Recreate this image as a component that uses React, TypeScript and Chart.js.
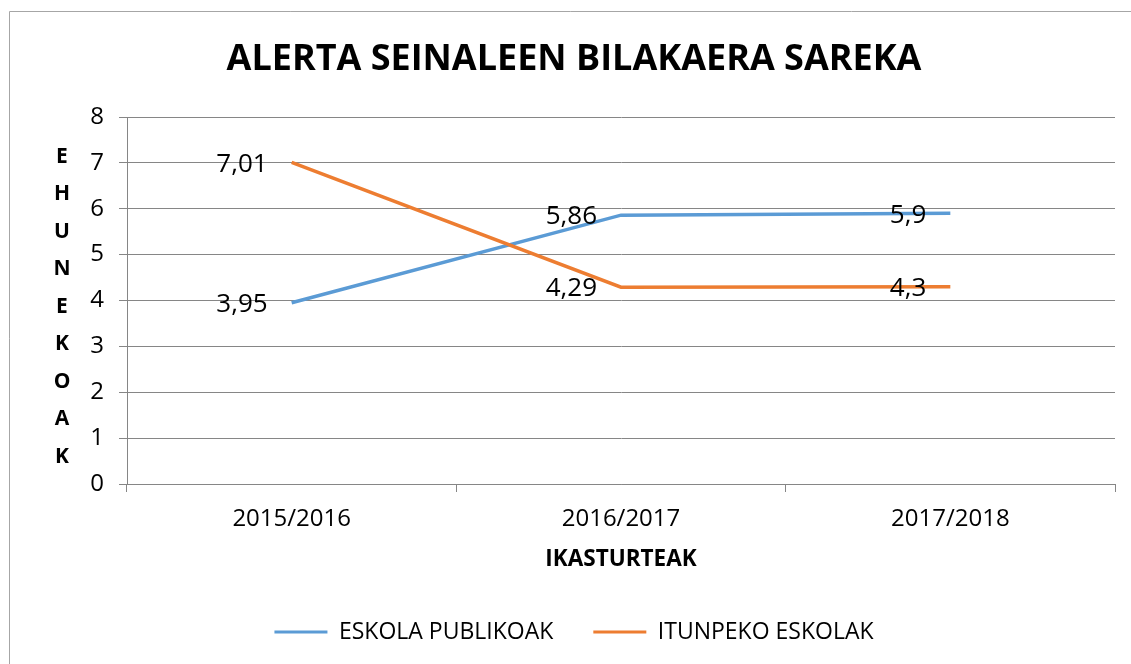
import React, { useEffect, useRef } from 'react';
import { Chart, registerables } from 'chart.js';

Chart.register(...registerables);

const categories = ['2015/2016', '2016/2017', '2017/2018'];
const publicSchools = [3.95, 5.86, 5.9];
const privateSchools = [7.01, 4.29, 4.3];
const seriesNames = ['ESKOLA PUBLIKOAK', 'ITUNPEKO ESKOLAK'];
const seriesColors = ['#5B9BD5', '#ED7D31'];
const yMin = 0;
const yMax = 8;
const yStep = 1;
const chartTitle = 'ALERTA SEINALEEN BILAKAERA SAREKA';
const xTitle = 'IKASTURTEAK';
const yTitle = 'EHUNEKOAK';

const FONT = "'Open Sans', sans-serif";
const GRID = '#868686';

const formatValue = (v: number) => String(v).replace('.', ',');

const framePlugin = {
  id: 'frame',
  beforeDraw(chart: any) {
    const ctx = chart.ctx;
    ctx.save();
    ctx.fillStyle = '#ffffff';
    ctx.fillRect(0, 0, chart.width, chart.height);
    ctx.strokeStyle = '#a6a6a6';
    ctx.lineWidth = 1;
    ctx.beginPath();
    ctx.moveTo(9.5, chart.height + 5);
    ctx.lineTo(9.5, 11.5);
    ctx.lineTo(chart.width + 5, 11.5);
    ctx.stroke();
    ctx.restore();
  },
};

const yTitlePlugin = {
  id: 'yTitleStacked',
  afterDraw(chart: any) {
    const ctx = chart.ctx;
    ctx.save();
    ctx.fillStyle = '#000';
    ctx.font = `bold 21px ${FONT}`;
    ctx.textAlign = 'center';
    ctx.textBaseline = 'alphabetic';
    const letters = yTitle.split('');
    letters.forEach((ch, i) => {
      ctx.fillText(ch, 62, 155 + i * 37.5 + 7.5);
    });
    ctx.restore();
  },
};

const dataLabelPlugin = {
  id: 'dataLabels',
  afterDatasetsDraw(chart: any) {
    const ctx = chart.ctx;
    ctx.save();
    ctx.fillStyle = '#000';
    ctx.font = `26px ${FONT}`;
    ctx.textAlign = 'right';
    ctx.textBaseline = 'alphabetic';
    chart.data.datasets.forEach((ds: any, i: number) => {
      const meta = chart.getDatasetMeta(i);
      meta.data.forEach((pt: any, j: number) => {
        ctx.fillText(formatValue(ds.data[j]), pt.x - 24, pt.y + 9.3);
      });
    });
    ctx.restore();
  },
};

export default function App() {
  const ref = useRef<HTMLCanvasElement | null>(null);

  useEffect(() => {
    if (!ref.current) return;
    const chart = new Chart(ref.current, {
      type: 'line',
      data: {
        labels: categories,
        datasets: [
          {
            label: seriesNames[0],
            data: publicSchools,
            borderColor: seriesColors[0],
            backgroundColor: seriesColors[0],
            borderWidth: 3.5,
            pointRadius: 0,
            tension: 0,
            order: 1,
          },
          {
            label: seriesNames[1],
            data: privateSchools,
            borderColor: seriesColors[1],
            backgroundColor: seriesColors[1],
            borderWidth: 3.5,
            pointRadius: 0,
            tension: 0,
            order: 0,
          },
        ],
      },
      options: {
        animation: false,
        responsive: false,
        devicePixelRatio: 1,
        layout: { padding: { left: 33, right: 16, top: 0, bottom: 10.5 } },
        plugins: {
          title: {
            display: true,
            text: chartTitle,
            color: '#000',
            font: { family: FONT, size: 36, weight: 'bold' },
            padding: { top: 38.4, bottom: 35.4 },
          },
          legend: {
            display: true,
            position: 'bottom',
            labels: {
              boxWidth: 53,
              boxHeight: 3,
              padding: 40,
              color: '#000',
              font: { family: FONT, size: 23 },
              generateLabels: (c: any) =>
                Chart.defaults.plugins.legend.labels
                  .generateLabels(c)
                  .map((l: any) => ({ ...l, lineWidth: 0, fillStyle: l.strokeStyle }))
                  .sort((a: any, b: any) => a.datasetIndex - b.datasetIndex),
            },
          },
          tooltip: { enabled: false },
        },
        scales: {
          x: {
            offset: true,
            grid: {
              offset: true,
              drawOnChartArea: false,
              drawTicks: true,
              tickLength: 8,
              color: GRID,
            },
            border: { color: GRID },
            ticks: {
              padding: 12.6,
              color: '#000',
              maxRotation: 0,
              font: { family: FONT, size: 24 },
            },
            title: {
              display: true,
              text: xTitle,
              color: '#000',
              font: { family: FONT, size: 22.5, weight: 'bold' },
              padding: { top: 0, bottom: 7 },
            },
            afterFit: (s: any) => {
              s.height = 96.5;
            },
          },
          y: {
            min: yMin,
            max: yMax,
            ticks: {
              stepSize: yStep,
              padding: 15,
              color: '#000',
              font: { family: FONT, size: 24 },
            },
            grid: { color: GRID, tickLength: 8 },
            border: { color: GRID },
            afterFit: (s: any) => {
              s.width = 94;
            },
          },
        },
      },
      plugins: [framePlugin, yTitlePlugin, dataLabelPlugin],
    });
    return () => chart.destroy();
  }, []);

  return (
    <div style={{ position: 'absolute', left: 0, top: 0, width: 1131, height: 664 }}>
      <canvas ref={ref} width={1131} height={664} style={{ display: 'block' }} />
    </div>
  );
}
